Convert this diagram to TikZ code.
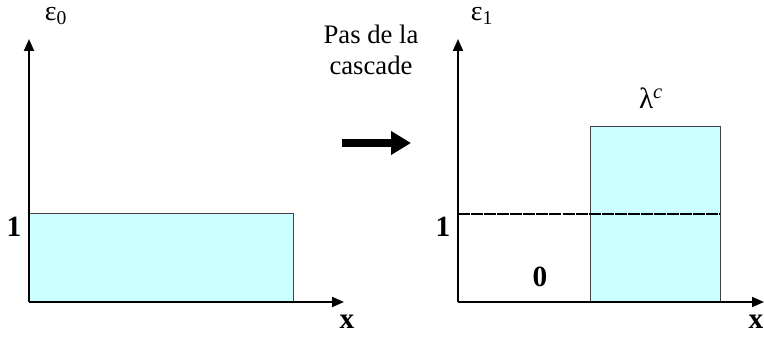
\documentclass[tikz,border=0pt]{standalone}
\usepackage{fontspec}
\setmainfont{Liberation Serif}
\usetikzlibrary{arrows.meta}

\tikzset{every picture/.style={line width=0.75pt}}
\tikzset{
  axis/.style={line width=1.5pt, -{Triangle[length=9pt,width=7.5pt]}},
  level/.style={draw={rgb, 255:red, 64; green, 64; blue, 64 }, fill={rgb, 255:red, 204; green, 255; blue, 255 }, line width=0.75pt},
  lbl/.style={font=\fontsize{22}{24}\selectfont\bfseries, inner sep=0pt}
}

\begin{document}
\begin{tikzpicture}[x=0.75pt,y=0.75pt,yscale=-1,xscale=1]
\useasboundingbox (0,0) rectangle (764,341);

%Coordinates: axes
\coordinate (oL) at (29,302);
\coordinate (yL) at (29,39);
\coordinate (xL) at (344,302);
\coordinate (oR) at (458,302);
\coordinate (yR) at (458,39);
\coordinate (xR) at (764,302);

%Shape: Rectangle (left level)
\draw [level] (29,214) rectangle (293,302);
%Shape: Rectangle (right level)
\draw [level] (590,127) rectangle (720,302);
%Straight Lines (dashed level 1)
\draw [line width=1.1pt, dash pattern={on 9pt off 0.8pt}] (458,214) -- (720,214);

%Straight Lines (axes)
\draw [axis] (oL) -- (yL);
\draw [axis] (oL) -- (xL);
\draw [axis] (oR) -- (yR);
\draw [axis] (oR) -- (xR);

%Text
\node [inner sep=0pt, font=\fontsize{21}{22}\selectfont] (eps0) at (56,16) {ε\textsubscript{0}};
\node [inner sep=0pt, font=\fontsize{21}{22}\selectfont] (eps1) at (482,16) {ε\textsubscript{1}};
\node [lbl] (oneL) at (14,227) {1};
\node [lbl] (oneR) at (443,227) {1};
\node [lbl] (zero) at (540,277) {0};
\node [lbl] (xlabL) at (347,322) {x};
\node [lbl] (xlabR) at (756,322) {x};
\node [inner sep=0pt, font=\fontsize{22}{24}\selectfont] (lam) at (651,98) {λ\textsuperscript{\itshape c}};
\node [inner sep=0pt, align=center, font=\fontsize{20}{23}\selectfont] (pas) at (371,50) {Pas de la\\cascade};

%Thick arrow
\coordinate (a0) at (342,143);
\coordinate (a1) at (411,143);
\draw [line width=6pt, -{Triangle[length=15pt,width=17pt]}] (a0) -- (a1);

\end{tikzpicture}
\end{document}
